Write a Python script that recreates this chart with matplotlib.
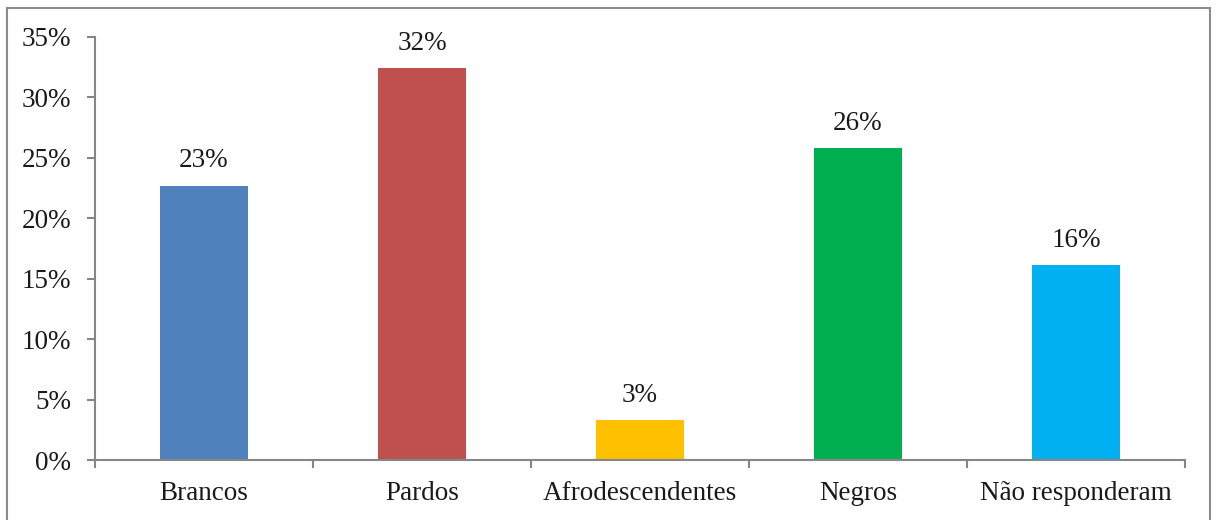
import matplotlib
matplotlib.use("Agg")
import matplotlib.pyplot as plt
from matplotlib.patches import Rectangle
from matplotlib.ticker import FuncFormatter, FixedLocator, NullFormatter
import numpy as np

categories = ["Brancos", "Pardos", "Afrodescendentes", "Negros", "Não responderam"]
values = [22.7, 32.4, 3.3, 25.8, 16.1]
labels = ["23%", "32%", "3%", "26%", "16%"]
colors = ["#4F81BD", "#C0504D", "#FFC000", "#00B050", "#00B0F0"]

plt.rcParams['font.family'] = ['Liberation Serif', 'DejaVu Serif']

W, H = 1217, 520
fig = plt.figure(figsize=(W / 100, H / 100), dpi=100)
fig.patch.set_facecolor("white")

# outer frame
fig.patches.append(Rectangle((7 / W, -0.05), (1210 - 7) / W, 1.05 - 8 / H,
                             transform=fig.transFigure, fill=False,
                             edgecolor="#8c8c8c", linewidth=1.5))

FS = 19.5
ax = fig.add_axes([95 / W, 1 - 460 / H, (1185 - 95) / W, (460 - 37) / H])
x = np.arange(len(categories))
ax.bar(x, values, width=0.4, color=colors, zorder=2)
for xi, v, lab in zip(x, values, labels):
    ax.annotate(lab, (xi, v), xytext=(0, 9), textcoords="offset points",
                ha="center", va="bottom", fontsize=FS, color="#1a1a1a")

ax.set_xlim(-0.5, len(categories) - 0.5)
ax.set_ylim(0, 35)
ax.set_yticks(np.arange(0, 36, 5))
ax.yaxis.set_major_formatter(FuncFormatter(lambda v, p: f"{int(v)}%"))
ax.xaxis.set_major_locator(FixedLocator(np.arange(-0.5, len(categories), 1.0)))
ax.xaxis.set_major_formatter(NullFormatter())
ax.xaxis.set_minor_locator(FixedLocator(x))
ax.set_xticklabels(categories, minor=True)
ax.tick_params(axis="x", which="minor", length=0, pad=15, labelsize=FS, labelcolor="#1a1a1a")
ax.tick_params(axis="x", which="major", length=6, width=1.5, color="#868686", direction="out")
ax.tick_params(axis="y", length=6, width=1.5, color="#868686", direction="out",
               labelsize=FS, labelcolor="#1a1a1a", pad=11)
for s in ["top", "right"]:
    ax.spines[s].set_visible(False)
for s in ["left", "bottom"]:
    ax.spines[s].set_color("#868686")
    ax.spines[s].set_linewidth(1.5)

fig.savefig("out.png", dpi=100)
